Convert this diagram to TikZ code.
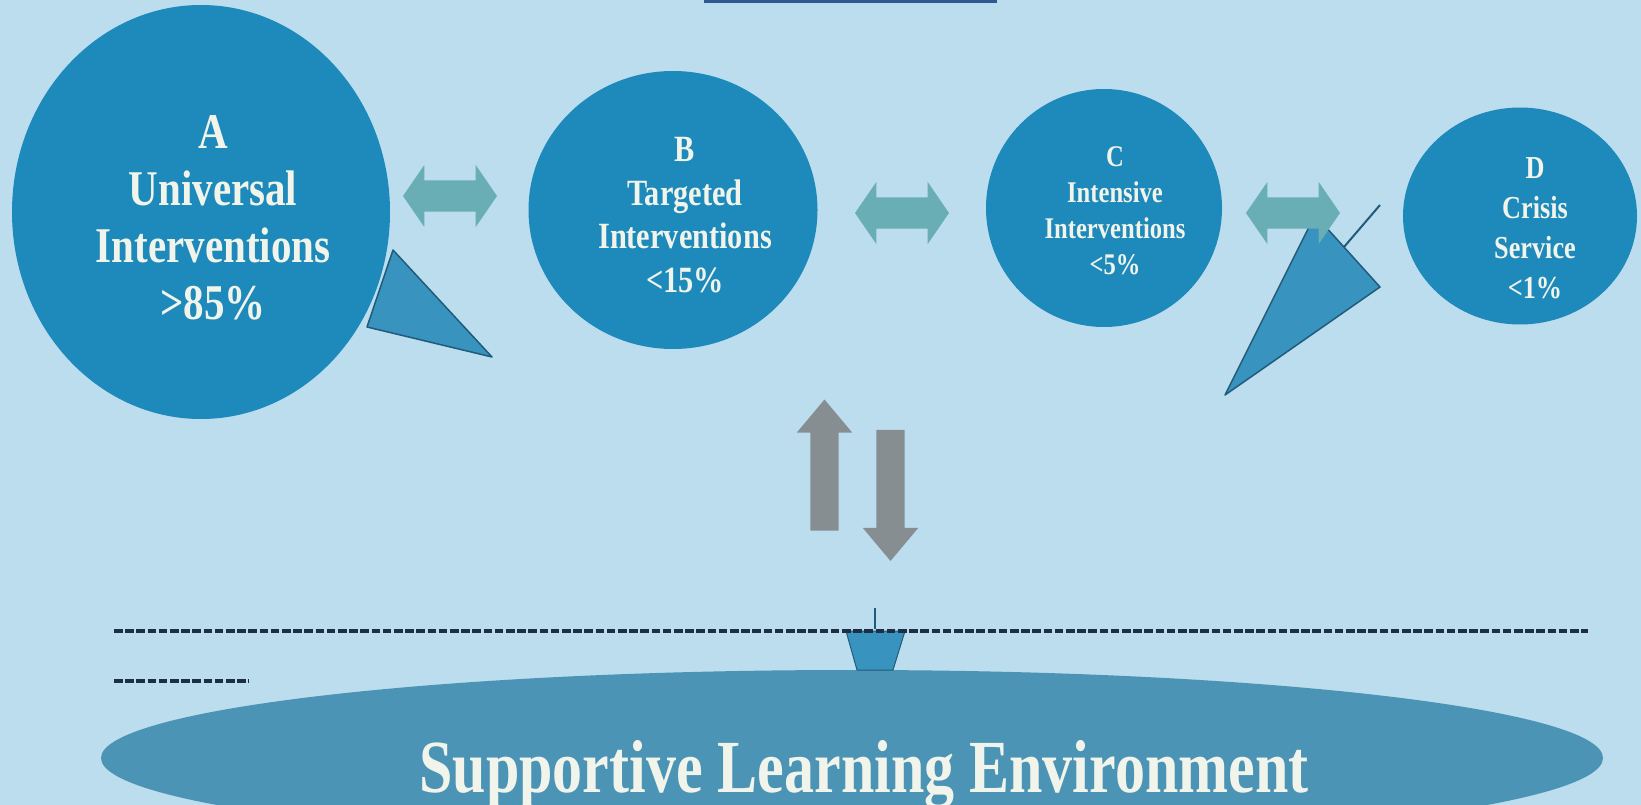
\documentclass[tikz,border=0pt]{standalone}
\usepackage{fontspec}
\setmainfont{Liberation Serif}
\newfontfamily\tierfont[FakeStretch=0.82]{Liberation Serif}
\newfontfamily\basefont[FakeStretch=0.80]{Liberation Serif}
\usetikzlibrary{shapes.geometric,shapes.arrows,calc}

\definecolor{bgcol}{HTML}{BBDDEE}
\definecolor{tiercol}{HTML}{1D8ABB}
\definecolor{tailcol}{HTML}{3993BF}
\definecolor{tailedge}{HTML}{205B7C}
\definecolor{linkcol}{HTML}{69ADB5}
\definecolor{flowcol}{HTML}{878E91}
\definecolor{envcol}{HTML}{4B94B5}
\definecolor{dashcol}{HTML}{1C2D44}
\definecolor{stripcol}{HTML}{2D5A90}
\definecolor{textcol}{HTML}{F1F4EA}

\tikzset{
  tier/.style={ellipse, fill=tiercol, inner sep=0pt},
  tiertext/.style={text=textcol, align=center, inner sep=0pt},
  link/.style={double arrow, fill=linkcol, inner sep=15.5pt,
    double arrow head extend=15.5pt, double arrow tip angle=111,
    minimum width=62pt, minimum height=94pt},
  flow/.style={single arrow, fill=flowcol, inner sep=14pt,
    single arrow head extend=13.5pt, single arrow tip angle=80,
    minimum width=55pt, minimum height=131pt},
  pointer/.style={fill=tailcol, draw=tailedge, line width=1.5pt, line join=round},
  dashline/.style={draw=dashcol, line width=4pt, dash pattern=on 8.5pt off 2.7pt}
}

\begin{document}
\begin{tikzpicture}[x=1pt, y=-1pt]
    \useasboundingbox (0,0) rectangle (1641,805);
    \fill[bgcol] (0,0) rectangle (1641,805);

    % strip of the title box at the top edge
    \fill[stripcol] (704,0) rectangle (997,3);

    % callout pointers (behind the tiers)
    \filldraw[pointer] (393,250) -- (492,357) -- (367,327) -- cycle;
    \filldraw[pointer] (1315,215) -- (1380,287) -- (1225,395) -- cycle;
    \draw[tailedge, line width=2pt] (1344,247) -- (1380,205);

    % the four tiers
    \node[tier, minimum width=378pt, minimum height=414pt] (A) at (201,212) {};
    \node[tier, minimum width=289pt, minimum height=278pt] (B) at (673,210) {};
    \node[tier, minimum width=236pt, minimum height=238pt] (C) at (1104,208) {};
    \node[tier, minimum width=234pt, minimum height=217pt] (D) at (1520,216) {};

    \node[tiertext, font=\tierfont\bfseries\fontsize{50}{57}\selectfont] (Atext)
        at ($(A.center)+(12,6)$) {A\\Universal\\Interventions\\>85\%};
    \node[tiertext, font=\tierfont\bfseries\fontsize{37}{43.5}\selectfont] (Btext)
        at ($(B.center)+(12,5)$) {B\\Targeted\\Interventions\\<15\%};
    \node[tiertext, font=\tierfont\bfseries\fontsize{30}{36}\selectfont] (Ctext)
        at ($(C.center)+(11,3)$) {C\\Intensive\\Interventions\\<5\%};
    \node[tiertext, font=\tierfont\bfseries\fontsize{32}{40}\selectfont] (Dtext)
        at ($(D.center)+(15,12)$) {D\\Crisis\\Service\\<1\%};

    % links between neighbouring tiers
    \node[link] (AB) at (450,196) {};
    \node[link] (BC) at (902,213) {};
    \node[link] (CD) at (1293,213) {};

    % up and down flow
    \node[flow, rotate=90] (up) at (824.5,473.5) {};
    \node[flow, rotate=-90] (down) at (890.5,487) {};

    % base of the model
    \node[ellipse, fill=envcol, inner sep=0pt, minimum width=1502pt, minimum height=176pt]
        (env) at (852,758) {};
    \filldraw[pointer, line width=1pt] (846,631) -- (905,631) -- (893,670) -- (857,670) -- cycle;
    \draw[tailedge, line width=2pt] (875,608) -- (875,629);
    \draw[dashline] (114,630.5) -- (1588,630.5);
    \draw[dashline] (114,681) -- (249,681);
    \node[text=textcol, inner sep=0pt, anchor=base,
        font=\basefont\bfseries\fontsize{75}{80}\selectfont] (envtext)
        at (864,792) {Supportive Learning Environment};
\end{tikzpicture}
\end{document}
